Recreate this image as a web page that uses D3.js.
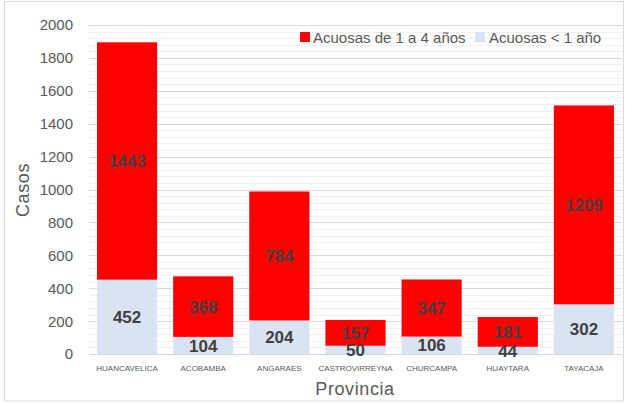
<!DOCTYPE html>
<html><head><meta charset="utf-8">
<script src="https://cdn.jsdelivr.net/npm/d3@7"></script>
<style>body{margin:0;background:#fff}svg{display:block}text{font-family:"Liberation Sans",Arial,sans-serif}</style>
</head><body>
<script>
const categories = ["HUANCAVELICA","ACOBAMBA","ANGARAES","CASTROVIRREYNA","CHURCAMPA","HUAYTARA","TAYACAJA"];
const menor1 = [452,104,204,50,106,44,302];
const de1a4 = [1443,368,784,157,347,181,1209];
const seriesNames = ["Acuosas de 1 a 4 años","Acuosas < 1 año"];
const yTicks = [0,200,400,600,800,1000,1200,1400,1600,1800,2000];

const W=625,H=405;
const svg=d3.select("body").append("svg").attr("width",W).attr("height",H);
svg.append("rect").attr("x",4.5).attr("y",1.5).attr("width",619).attr("height",399.5)
  .attr("fill","#fff").attr("stroke","#d9d9d9");

const x=d3.scaleBand().domain(categories).range([89,622]).paddingInner(0.21).paddingOuter(0.105);
const y=d3.scaleLinear().domain([0,2000]).range([354,25]);

// minor gridlines
const minor=d3.range(0,2001,40).filter(v=>v%200!==0);
svg.append("g").selectAll("line").data(minor).join("line")
  .attr("x1",89).attr("x2",622).attr("y1",d=>Math.round(y(d))+0.5).attr("y2",d=>Math.round(y(d))+0.5)
  .attr("stroke","#f0f0f0");
svg.append("g").selectAll("line").data(yTicks).join("line")
  .attr("x1",89).attr("x2",622).attr("y1",d=>Math.round(y(d))+0.5).attr("y2",d=>Math.round(y(d))+0.5)
  .attr("stroke","#d9d9d9");

// y tick labels
svg.append("g").selectAll("text").data(yTicks).join("text")
  .attr("x",73).attr("y",d=>y(d)).attr("dy","0.36em").attr("text-anchor","end")
  .attr("font-size",15).attr("fill","#595959").text(d=>d);

const data=categories.map((c,i)=>({c,a:menor1[i],b:de1a4[i]}));
const g=svg.append("g");
g.selectAll(".lo").data(data).join("rect").attr("class","lo")
  .attr("x",d=>x(d.c)).attr("width",x.bandwidth())
  .attr("y",d=>y(d.a)).attr("height",d=>y(0)-y(d.a)).attr("fill","#dae3f3");
g.selectAll(".hi").data(data).join("rect").attr("class","hi")
  .attr("x",d=>x(d.c)).attr("width",x.bandwidth())
  .attr("y",d=>y(d.a+d.b)).attr("height",d=>y(d.a)-y(d.a+d.b)).attr("fill","#ff0000");

// labels
g.selectAll(".la").data(data).join("text").attr("class","la")
  .attr("x",d=>x(d.c)+x.bandwidth()/2).attr("y",d=>(y(0)+y(d.a))/2).attr("dy","0.36em")
  .attr("text-anchor","middle").attr("font-size",17).attr("font-weight","bold").attr("fill","#404040")
  .text(d=>d.a);
g.selectAll(".lb").data(data).join("text").attr("class","lb")
  .attr("x",d=>x(d.c)+x.bandwidth()/2).attr("y",d=>(y(d.a)+y(d.a+d.b))/2).attr("dy","0.36em")
  .attr("text-anchor","middle").attr("font-size",17).attr("font-weight","bold").attr("fill","#404040")
  .text(d=>d.b);

// category labels
svg.append("g").selectAll("text").data(categories).join("text")
  .attr("x",d=>x(d)+x.bandwidth()/2).attr("y",371).attr("text-anchor","middle")
  .attr("font-size",8).attr("fill","#595959").text(d=>d);

// axis titles
svg.append("text").attr("x",355).attr("y",395).attr("text-anchor","middle")
  .attr("font-size",18).attr("letter-spacing","0.6px").attr("fill","#595959").text("Provincia");
svg.append("text").attr("transform","translate(29,190) rotate(-90)").attr("text-anchor","middle")
  .attr("font-size",18).attr("letter-spacing","0.6px").attr("fill","#595959").text("Casos");

// legend
const leg=[{n:seriesNames[0],c:"#ff0000",x:300,tx:313},{n:seriesNames[1],c:"#dae3f3",x:475,tx:489}];
const lg=svg.append("g").selectAll("g").data(leg).join("g");
lg.append("rect").attr("x",d=>d.x).attr("y",32).attr("width",10).attr("height",10).attr("fill",d=>d.c);
lg.append("text").attr("x",d=>d.tx).attr("y",42.5).attr("font-size",15).attr("fill","#595959").text(d=>d.n);
</script>
</body></html>
